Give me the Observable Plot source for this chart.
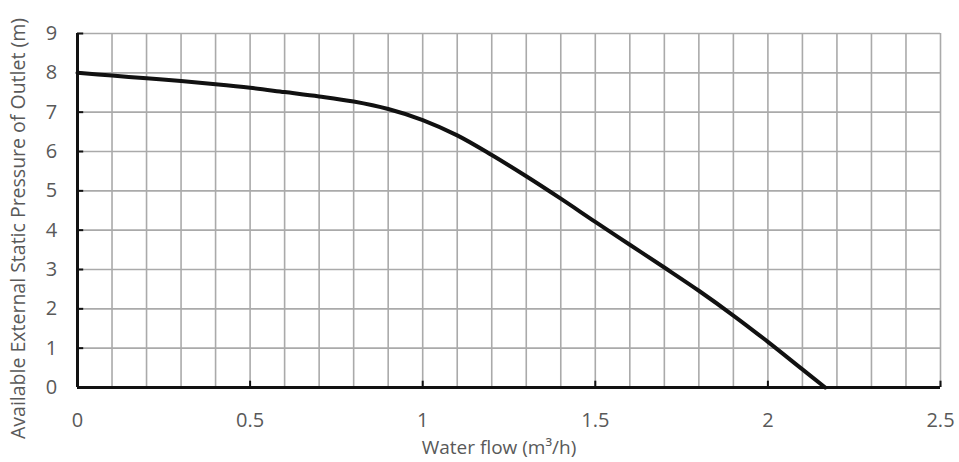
<!DOCTYPE html>
<html>
<head>
<meta charset="utf-8">
<script src="https://cdn.jsdelivr.net/npm/d3@7"></script>
<script src="https://cdn.jsdelivr.net/npm/@observablehq/plot@0.6"></script>
<style>
  html, body { margin: 0; padding: 0; background: #fff; }
  #chart svg { display: block; }
</style>
</head>
<body>
<div id="chart"></div>
<script>
// Data
const flow     = [0, 0.1, 0.2, 0.3, 0.4, 0.5, 0.6, 0.7, 0.8, 0.9, 1.0, 1.1, 1.2, 1.3, 1.4, 1.5, 1.6, 1.7, 1.8, 1.9, 2.0, 2.1, 2.166];
const pressure = [8.0, 7.93, 7.86, 7.79, 7.71, 7.62, 7.51, 7.4, 7.27, 7.08, 6.8, 6.41, 5.91, 5.37, 4.8, 4.21, 3.63, 3.05, 2.46, 1.83, 1.16, 0.46, 0];
const xTicks = [0, 0.5, 1, 1.5, 2, 2.5];
const xTickLabels = ["0", "0.5", "1", "1.5", "2", "2.5"];
const yTicks = [0, 1, 2, 3, 4, 5, 6, 7, 8, 9];
const xGrid = [0, 0.1, 0.2, 0.3, 0.4, 0.5, 0.6, 0.7, 0.8, 0.9, 1.0, 1.1, 1.2, 1.3, 1.4, 1.5, 1.6, 1.7, 1.8, 1.9, 2.0, 2.1, 2.2, 2.3, 2.4, 2.5];
const xLabel = "Water flow (m³/h)";
const yLabel = "Available External Static Pressure of Outlet (m)";

const data = flow.map((f, i) => ({flow: f, pressure: pressure[i]}));

const font = "'Open Sans', sans-serif";
const textGrey = "#595959";

const chart = Plot.plot({
  width: 959,
  height: 462,
  marginLeft: 77,
  marginRight: 19,
  marginTop: 33,
  marginBottom: 75,
  style: {fontFamily: font, background: "#fff"},
  x: {domain: [0, 2.5], label: null},
  y: {domain: [0, 9], label: null},
  marks: [
    Plot.gridX(xGrid, {stroke: "#aaaaaa", strokeOpacity: 1, strokeWidth: 1.6}),
    Plot.gridY(yTicks, {stroke: "#aaaaaa", strokeOpacity: 1, strokeWidth: 1.6}),
    Plot.ruleX(xTicks, {y1: 0, y2: 0.16, stroke: "#111", strokeWidth: 2}),
    Plot.ruleY(yTicks, {x1: 0, x2: 0.018, stroke: "#111", strokeWidth: 2}),
    Plot.ruleX([0], {stroke: "#111", strokeWidth: 3}),
    Plot.ruleY([0], {stroke: "#111", strokeWidth: 3}),
    Plot.axisX(xTicks, {tickSize: 0, tickPadding: 25, fontSize: 20, fill: textGrey, tickFormat: (d, i) => xTickLabels[i], label: null}),
    Plot.axisY(yTicks, {tickSize: 0, tickPadding: 26, fontSize: 20, fill: textGrey, textAnchor: "middle", label: null}),
    Plot.line(data, {x: "flow", y: "pressure", curve: "catmull-rom", stroke: "#111", strokeWidth: 4, strokeLinecap: "round"}),
    Plot.text([xLabel], {frameAnchor: "bottom", dx: -10, dy: 66, fontSize: 19, fill: textGrey, text: d => d}),
    Plot.text([yLabel], {frameAnchor: "left", dx: -59, dy: 18, rotate: -90, textAnchor: "middle", fontSize: 19.5, fill: textGrey, text: d => d})
  ]
});
document.getElementById("chart").appendChild(chart);
</script>
</body>
</html>
